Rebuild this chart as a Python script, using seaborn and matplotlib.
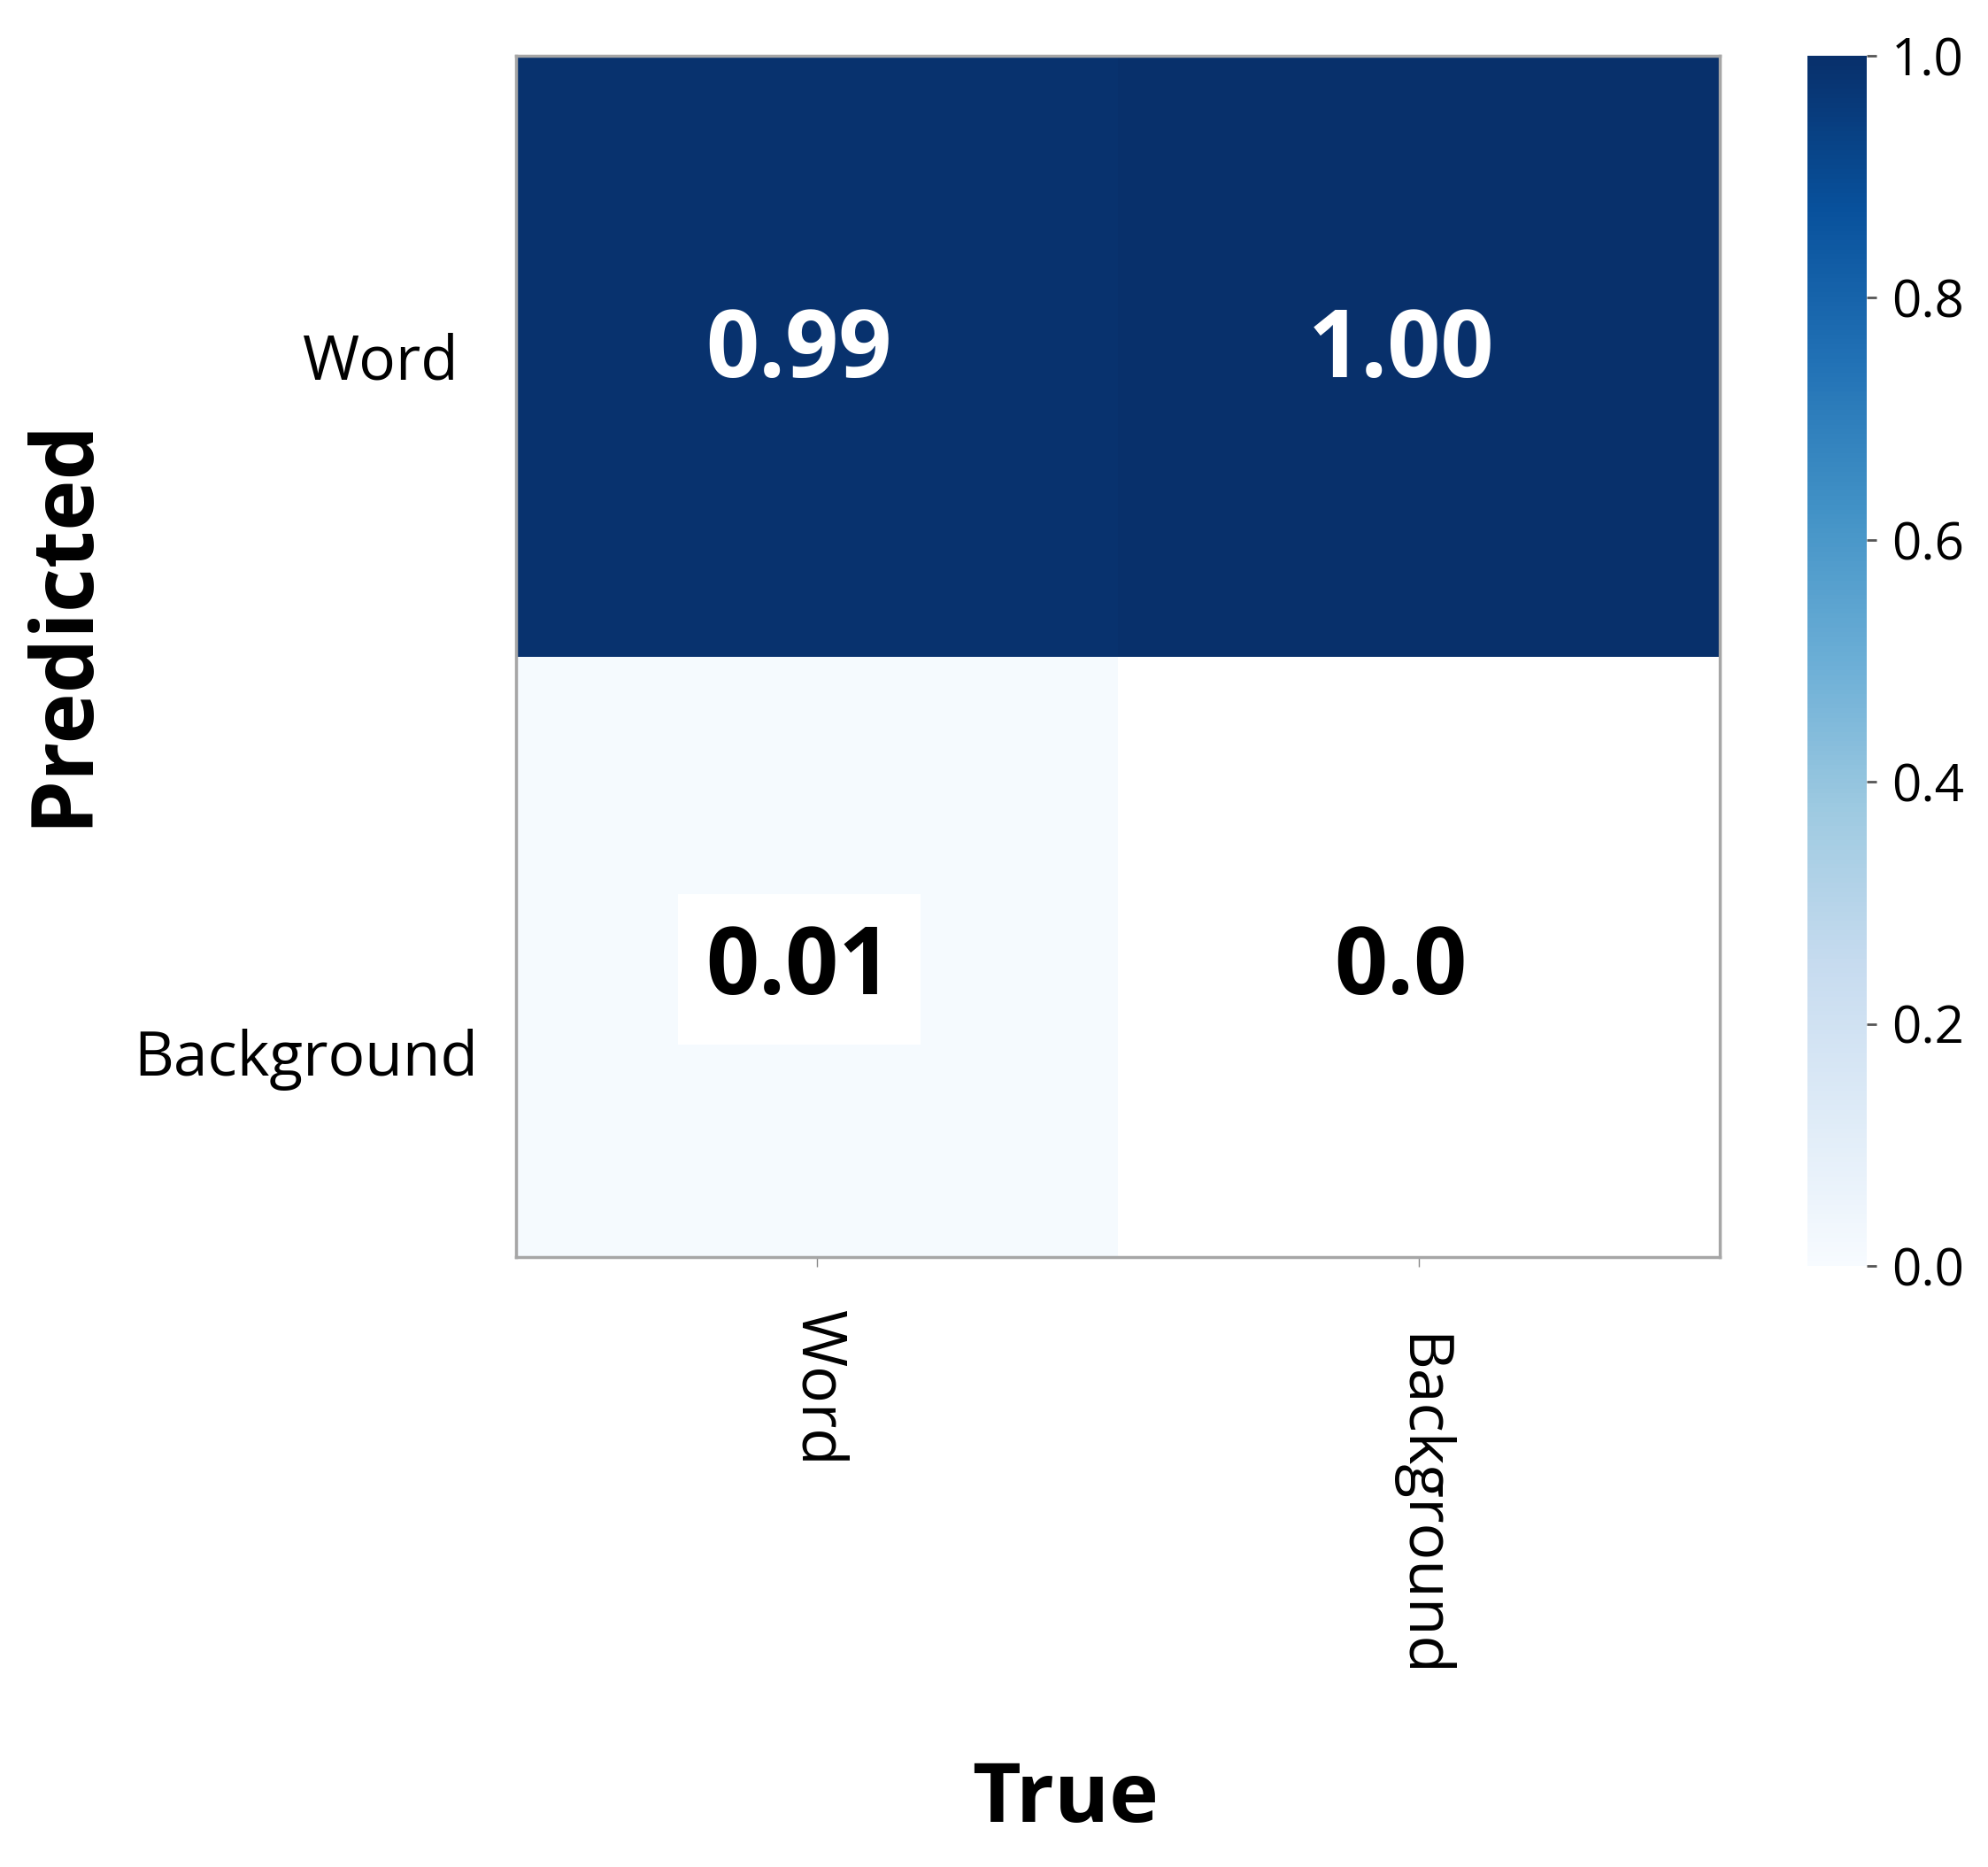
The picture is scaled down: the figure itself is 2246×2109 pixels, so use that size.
import matplotlib
matplotlib.use("Agg")
import matplotlib.pyplot as plt
import matplotlib.transforms as mtransforms
import numpy as np
import seaborn as sns

# Confusion matrix values (rows = predicted, cols = true)
TRUE_LABELS = ["Word", "Background"]
PRED_LABELS = ["Word", "Background"]
VALUES = [[0.99, 1.00],
          [0.01, 0.0]]
ANNOT_TEXT = [["0.99", "1.00"],
              ["0.01", "0.0"]]
CBAR_TICKS = [0.0, 0.2, 0.4, 0.6, 0.8, 1.0]

# small nudges of the annotation text inside each row (cell units)
ROW_NUDGE = [-0.006, 0.021]
COL_NUDGE = -0.03

sns.set_theme(style="white")
plt.rcParams["font.family"] = ["Open Sans", "DejaVu Sans"]
plt.rcParams["text.color"] = "black"
plt.rcParams["axes.labelcolor"] = "black"
plt.rcParams["xtick.color"] = "black"
plt.rcParams["ytick.color"] = "black"

W, H = 2246, 2109
fig = plt.figure(figsize=(W / 100, H / 100), dpi=100)
ax = fig.add_axes([583 / W, 1 - 1420 / H, 1360 / W, 1357 / H])
cax = fig.add_axes([2042 / W, 1 - 1430 / H, 67 / W, 1367 / H])

data = np.array(VALUES)
mask = data == 0.0  # zero cell rendered as plain white

sns.heatmap(data, mask=mask, cmap="Blues", vmin=0, vmax=1, ax=ax, cbar_ax=cax,
            annot=False, square=False, linewidths=0,
            xticklabels=TRUE_LABELS, yticklabels=PRED_LABELS)

# annotations
for i in range(data.shape[0]):
    for j in range(data.shape[1]):
        val = data[i, j]
        color = "white" if val > 0.5 else "black"
        kw = {}
        if ANNOT_TEXT[i][j] == "0.01":
            kw["bbox"] = dict(boxstyle="square,pad=0.3", fc="white", ec="none")
        ax.text(j + 0.5 + COL_NUDGE, i + 0.5 + ROW_NUDGE[i], ANNOT_TEXT[i][j],
                ha="center", va="center",
                fontsize=76, fontweight="bold", color=color, **kw)

# border
for sp in ax.spines.values():
    sp.set_visible(True)
    sp.set_color("#a6a6a6")
    sp.set_linewidth(2.5)

ax.tick_params(axis="x", bottom=True, length=8, width=1, color="#888888",
               labelcolor="black", labelsize=50, pad=35)
ax.tick_params(axis="y", left=False, labelcolor="black", labelsize=50, pad=40)
xlabs = ax.get_xticklabels()
for lab in xlabs:
    lab.set_rotation(-90)
    lab.set_va("top")
    lab.set_ha("center")
xlabs[1].set_transform(xlabs[1].get_transform() +
                       mtransforms.ScaledTranslation(0, -27 / 100, fig.dpi_scale_trans))
ylabs = ax.get_yticklabels()
for lab in ylabs:
    lab.set_rotation(0)
    lab.set_ha("right")
    lab.set_va("center")
ylabs[0].set_transform(ylabs[0].get_transform() +
                       mtransforms.ScaledTranslation(0, -8 / 100, fig.dpi_scale_trans))
ylabs[1].set_transform(ylabs[1].get_transform() +
                       mtransforms.ScaledTranslation(21 / 100, -116 / 100, fig.dpi_scale_trans))

ax.set_xlabel("True", fontsize=68, fontweight="bold", va="center", color="black")
ax.set_ylabel("Predicted", fontsize=70, fontweight="bold", va="center", color="black")
ax.xaxis.set_label_coords(0.456, -0.452)
ax.yaxis.set_label_coords(-0.376, 0.529)

# colorbar
cb = ax.collections[0].colorbar
cb.outline.set_visible(False)
cb.set_ticks(CBAR_TICKS)
cb.set_ticklabels([f"{t:.1f}" for t in CBAR_TICKS])
cax.tick_params(right=True, length=8, width=2, color="#555555",
                labelcolor="black", labelsize=42, pad=12)

fig.savefig("out.png", dpi=100, facecolor="white")
